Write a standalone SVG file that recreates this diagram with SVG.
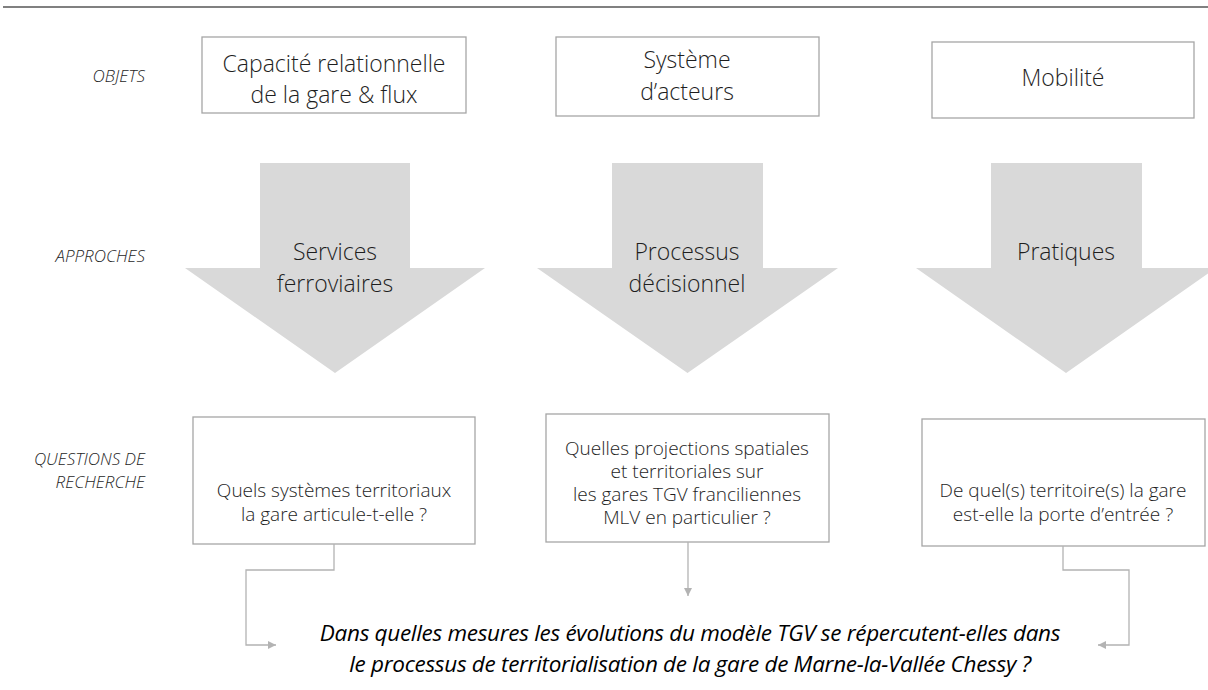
<svg xmlns="http://www.w3.org/2000/svg" width="1208" height="690" viewBox="0 0 1208 690">
<defs>
<style>
.box{fill:#fff;stroke:#a6a6a6;stroke-width:1.3}
.big{font-family:"Open Sans","Liberation Sans",sans-serif;font-weight:300;font-size:23px;fill:#1e1e1e;text-anchor:middle}
.q{font-family:"Open Sans","Liberation Sans",sans-serif;font-weight:300;font-size:19px;fill:#1e1e1e;text-anchor:middle}
.lab{font-family:"Open Sans","Liberation Sans",sans-serif;font-style:italic;font-weight:300;font-size:17px;fill:#262626;text-anchor:end}
.arr{fill:#d9d9d9}
.con{fill:none;stroke:#b3b3b3;stroke-width:1.3}
.fin{font-family:"Open Sans","Liberation Sans",sans-serif;font-style:italic;font-size:22.5px;fill:#000;text-anchor:middle;letter-spacing:-0.3px}
</style>
<marker id="ah" viewBox="0 0 10 10" refX="10" refY="5" markerWidth="8" markerHeight="8" markerUnits="userSpaceOnUse" orient="auto">
<path d="M0,0 L10,5 L0,10 z" fill="#b3b3b3"/>
</marker>
</defs>
<rect width="1208" height="690" fill="#fff"/>
<line x1="3" y1="7" x2="1208" y2="7" stroke="#808080" stroke-width="2"/>

<g id="labels">
<text class="lab" x="145" y="82">OBJETS</text>
<text class="lab" x="145" y="262">APPROCHES</text>
<text class="lab" x="145" y="465">QUESTIONS DE</text>
<text class="lab" x="145" y="488">RECHERCHE</text>
</g>

<g id="obj1"><rect class="box" x="202" y="37" width="264" height="76"/>
<text class="big" x="334" y="72">Capacité relationnelle</text>
<text class="big" x="334" y="103">de la gare &amp; flux</text></g>
<g id="obj2"><rect class="box" x="556" y="37" width="263" height="79"/>
<text class="big" x="687" y="68">Système</text>
<text class="big" x="687" y="100">d’acteurs</text></g>
<g id="obj3"><rect class="box" x="932" y="42" width="262" height="76"/>
<text class="big" x="1063" y="86">Mobilité</text></g>

<g id="app1"><path class="arr" d="M260,163 H410 V268 H485 L335,373 L185,268 H260 Z"/>
<text class="big" x="335" y="260">Services</text>
<text class="big" x="335" y="292">ferroviaires</text></g>
<g id="app2"><path class="arr" d="M612,163 H763 V268 H838 L687.5,373 L537,268 H612 Z"/>
<text class="big" x="687" y="260">Processus</text>
<text class="big" x="687" y="292">décisionnel</text></g>
<g id="app3"><path class="arr" d="M991,163 H1142 V268 H1216 L1066,373 L916,268 H991 Z"/>
<text class="big" x="1066" y="260">Pratiques</text></g>

<g id="q1"><rect class="box" x="193" y="417" width="282" height="127"/>
<text class="q" x="334" y="497">Quels systèmes territoriaux</text>
<text class="q" x="334" y="521">la gare articule-t-elle ?</text></g>
<g id="q2"><rect class="box" x="546" y="414" width="283" height="128"/>
<text class="q" x="687" y="455">Quelles projections spatiales</text>
<text class="q" x="687" y="478">et territoriales sur</text>
<text class="q" x="687" y="501">les gares TGV franciliennes</text>
<text class="q" x="687" y="524">MLV en particulier ?</text></g>
<g id="q3"><rect class="box" x="922" y="419" width="283" height="127"/>
<text class="q" x="1063" y="497">De quel(s) territoire(s) la gare</text>
<text class="q" x="1063" y="521">est-elle la porte d’entrée ?</text></g>

<g id="connectors">
<polyline class="con" points="334,544 334,570 246,570 246,645 276,645" marker-end="url(#ah)"/>
<polyline class="con" points="688,542 688,596" marker-end="url(#ah)"/>
<polyline class="con" points="1063,546 1063,570 1129,570 1129,645 1098,645" marker-end="url(#ah)"/>
</g>

<g id="conclusion">
<text class="fin" x="690" y="641">Dans quelles mesures les évolutions du modèle TGV se répercutent-elles dans</text>
<text class="fin" x="690" y="672">le processus de territorialisation de la gare de Marne-la-Vallée Chessy ?</text>
</g>
</svg>
